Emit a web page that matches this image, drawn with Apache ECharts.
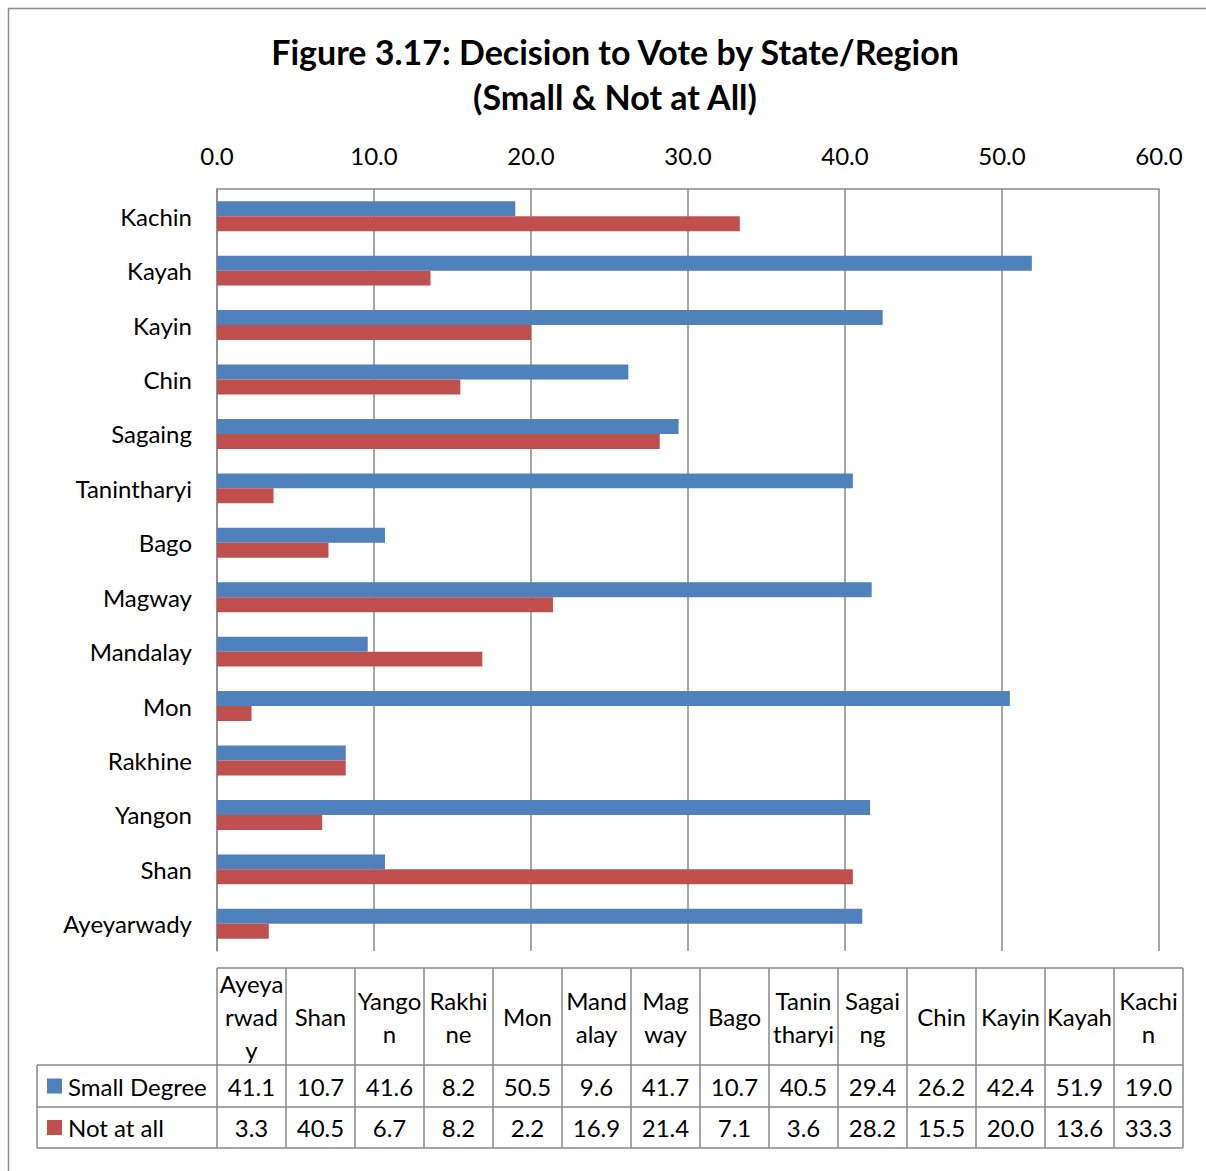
<!DOCTYPE html>
<html>
<head>
<meta charset="utf-8">
<script src="https://cdn.jsdelivr.net/npm/echarts@6/dist/echarts.min.js"></script>
<style>
html,body{margin:0;padding:0;background:#fff;}
#chart{width:1206px;height:1171px;}
</style>
</head>
<body>
<div id="chart"></div>
<script>
// ---- Data ----
const categories = ['Ayeyarwady','Shan','Yangon','Rakhine','Mon','Mandalay','Magway','Bago','Tanintharyi','Sagaing','Chin','Kayin','Kayah','Kachin'];
const tableHeaders = ['Ayeya\nrwad\ny','Shan','Yango\nn','Rakhi\nne','Mon','Mand\nalay','Mag\nway','Bago','Tanin\ntharyi','Sagai\nng','Chin','Kayin','Kayah','Kachi\nn'];
const smallDegree = [41.1,10.7,41.6,8.2,50.5,9.6,41.7,10.7,40.5,29.4,26.2,42.4,51.9,19.0];
const notAtAll = [3.3,40.5,6.7,8.2,2.2,16.9,21.4,7.1,3.6,28.2,15.5,20.0,13.6,33.3];
const seriesNames = ['Small Degree','Not at all'];
const xTicks = {min:0, max:60, interval:10};

// ---- Style ----
const FONT = 'Lato, "Open Sans", sans-serif';
const BLUE = '#4F81BD', RED = '#C0504D', GRID = '#898989', TXT = '#000';
const FS = 24;

const chart = echarts.init(document.getElementById('chart'), null, {renderer:'svg'});

// table layout
const tLeft = 217, colW = 69, hTop = 968, hBot = 1065, r1Bot = 1107, r2Bot = 1148, legLeft = 37;
const graphics = [];
// outer frame
graphics.push({type:'polyline', shape:{points:[[8.5,1171],[8.5,8.5],[1206,8.5]]}, style:{stroke:'#8c8c8c', lineWidth:1.5, fill:null}});
const tRight = tLeft + colW*categories.length;
const lineStyle = {stroke:GRID, lineWidth:1.5};
graphics.push({type:'line', shape:{x1:tLeft,y1:hTop,x2:tRight,y2:hTop}, style:lineStyle});
[hBot, r1Bot, r2Bot].forEach(y=>graphics.push({type:'line', shape:{x1:legLeft,y1:y,x2:tRight,y2:y}, style:lineStyle}));
graphics.push({type:'line', shape:{x1:legLeft,y1:hBot,x2:legLeft,y2:r2Bot}, style:lineStyle});
for(let i=0;i<=categories.length;i++){
  const x = tLeft + colW*i;
  graphics.push({type:'line', shape:{x1:x,y1:hTop,x2:x,y2:r2Bot}, style:lineStyle});
}
const rowVals = [smallDegree, notAtAll];
const rowCy = [(hBot+r1Bot)/2, (r1Bot+r2Bot)/2];
categories.forEach((c,i)=>{
  const cx = tLeft + colW*i + colW/2;
  graphics.push({type:'text', x:cx, y:(hTop+hBot)/2, style:{text:tableHeaders[i], font:`${FS}px ${FONT}`, fill:TXT, align:'center', verticalAlign:'middle', lineHeight:33}});
  rowVals.forEach((arr,r)=>{
    graphics.push({type:'text', x:cx, y:rowCy[r], style:{text:arr[i].toFixed(1), font:`${FS}px ${FONT}`, fill:TXT, align:'center', verticalAlign:'middle'}});
  });
});
[BLUE, RED].forEach((col,r)=>{
  graphics.push({type:'rect', shape:{x:47,y:rowCy[r]-7.5,width:15,height:15}, style:{fill:col}});
  graphics.push({type:'text', x:68, y:rowCy[r], style:{text:seriesNames[r], font:`${FS}px ${FONT}`, fill:TXT, align:'left', verticalAlign:'middle'}});
});

const option = {
  backgroundColor:'#fff',
  animation:false,
  title:{
    text:'Figure 3.17: Decision to Vote by State/Region\n(Small & Not at All)',
    left:610, top:24, textAlign:'center',
    textStyle:{fontFamily:FONT, fontWeight:'bold', fontSize:34, lineHeight:45, color:TXT}
  },
  grid:{left:217, right:47, top:189, bottom:220, containLabel:false},
  xAxis:{
    type:'value', position:'top', min:xTicks.min, max:xTicks.max, interval:xTicks.interval,
    axisLine:{show:true, lineStyle:{color:GRID, width:1.5}},
    axisTick:{show:false},
    splitLine:{show:true, lineStyle:{color:GRID, width:1.5}},
    axisLabel:{formatter:v=>v.toFixed(1), fontFamily:FONT, fontSize:FS, color:TXT, margin:22}
  },
  yAxis:{
    type:'category', data:categories,
    axisLine:{show:true, lineStyle:{color:GRID, width:1.5}},
    axisTick:{show:false},
    axisLabel:{fontFamily:FONT, fontSize:FS, color:TXT, margin:25}
  },
  series:[
    {name:seriesNames[0], type:'bar', data:smallDegree, itemStyle:{color:BLUE}, barGap:'0%', barCategoryGap:'45%'},
    {name:seriesNames[1], type:'bar', data:notAtAll, itemStyle:{color:RED}, barGap:'0%', barCategoryGap:'45%'}
  ],
  graphic:graphics
};
chart.setOption(option);
</script>
</body>
</html>
